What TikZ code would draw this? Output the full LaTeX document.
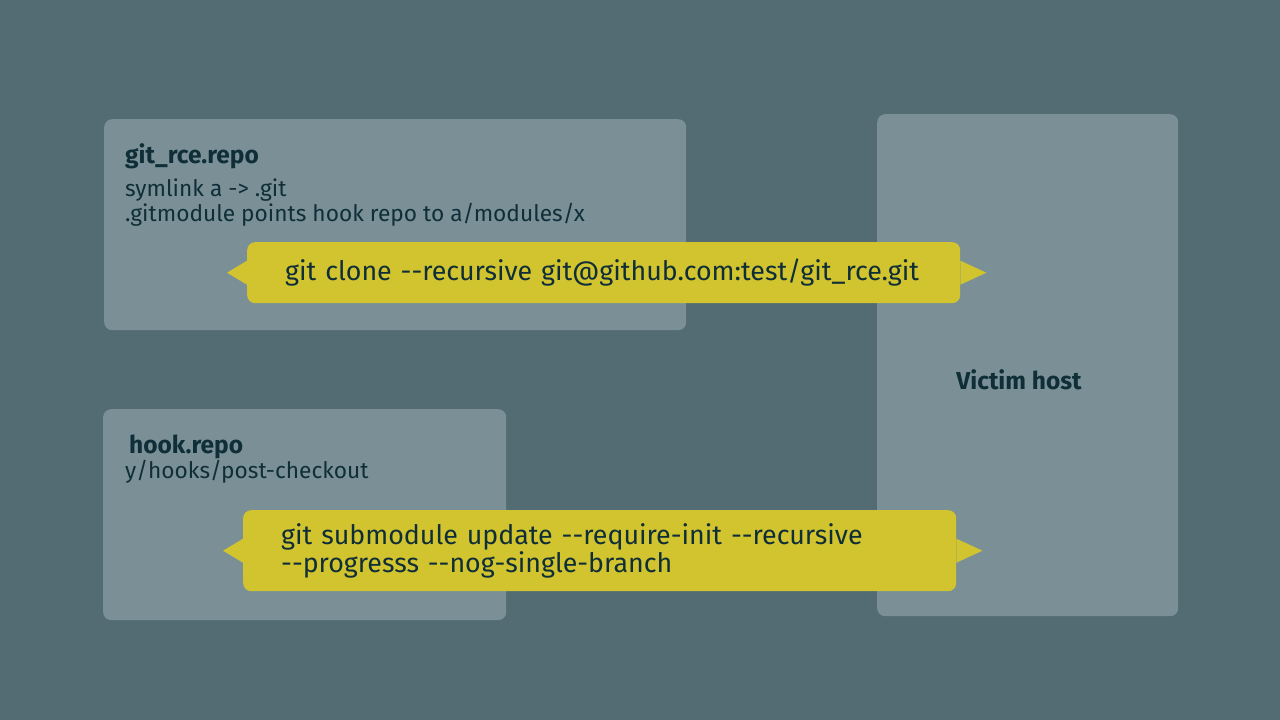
\documentclass[tikz,border=0pt]{standalone}
\usepackage{fontspec}
\setmainfont{Fira Sans}[Ligatures=TeXOff]
\definecolor{bgslate}{HTML}{536B72}
\definecolor{boxgrey}{HTML}{7A9096}
\definecolor{cmdyellow}{HTML}{D1C42F}
\definecolor{inkdark}{HTML}{0F2E38}
\tikzset{
  repobox/.style={fill=boxgrey, rounded corners=8pt, anchor=north west, inner sep=0pt},
  cmdbar/.style={fill=cmdyellow, rounded corners=8pt, anchor=north west, inner xsep=38pt, inner ysep=0pt,
    text width=637pt, align=left, text=inkdark, font=\fontsize{26.8}{28}\selectfont},
  boxtitle/.style={anchor=base west, inner sep=0pt, text=inkdark, font=\fontsize{24.5}{28}\selectfont\bfseries},
  boxline/.style={anchor=base west, inner sep=0pt, text=inkdark, font=\fontsize{22.7}{25}\selectfont},
}
\begin{document}
\begin{tikzpicture}[x=1pt, y=-1pt]
  \fill[bgslate] (0,0) rectangle (1280,720);
  \useasboundingbox (0,0) rectangle (1280,720);
  % the three boxes
  \node[repobox, minimum width=582, minimum height=211] (rce) at (104,119) {};
  \node[repobox, minimum width=403, minimum height=211] (hook) at (103,409) {};
  \node[repobox, minimum width=301, minimum height=502] (victim) at (877,114) {};
  \node[boxtitle] (rcetitle) at (125,163) {git\_rce.repo};
  \node[boxline] (symline) at (125,196) {symlink a -> .git};
  \node[boxline] (modline) at (125,221) {.gitmodule points hook repo to a/modules/x};
  \node[boxtitle] (hooktitle) at (129,453) {hook.repo};
  \node[boxline] (hookline) at (125,478) {y/hooks/post-checkout};
  \node[boxtitle, anchor=center] (victimtitle) at (1019,380) {Victim host};
  % the two commands
  \node[cmdbar, minimum height=61] (clone) at (247,242) {git clone --recursive git@github.com:test/git\_rce.git};
  \node[cmdbar, minimum height=81] (update) at (243,510) {git submodule update --require-init --recursive\\--progresss --nog-single-branch};
  \foreach \bar in {clone, update} {
    \fill[cmdyellow] ([yshift=12pt]\bar.west) -- ++(-20,12) -- ++(20,12) -- cycle;
    \fill[cmdyellow] ([yshift=12pt]\bar.east) -- ++(26,12) -- ++(-26,12) -- cycle;
  }
\end{tikzpicture}
\end{document}
